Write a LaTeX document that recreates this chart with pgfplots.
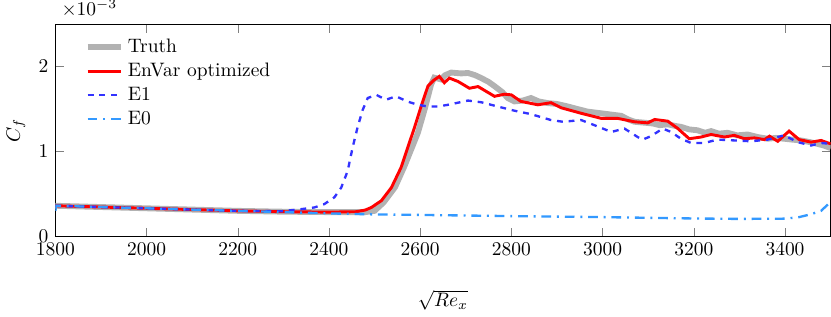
\documentclass[border=0pt]{standalone}
\usepackage{pgfplots}
\pgfplotsset{compat=1.18}
\definecolor{truthgray}{RGB}{178,178,178}
\definecolor{eoneblue}{RGB}{51,51,255}
\definecolor{ezeroblue}{RGB}{51,153,255}
\begin{document}
\begin{tikzpicture}
\begin{axis}[
  scale only axis,
  width=14cm, height=3.83cm,
  xmin=1800, xmax=3500, ymin=0, ymax=2.5e-3,
  xtick={1800,2000,...,3400},
  ytick={0,1e-3,2e-3},
  scaled y ticks=base 10:3,
  tick scale binop=\times,
  xticklabel style={/pgf/number format/1000 sep=},
  xlabel={$\sqrt{Re_x}$},
  xlabel style={yshift=-0.38cm},
  ylabel={$C_f$},
  legend style={draw=none, fill=none, at={(0.03,0.97)}, anchor=north west, font=\normalsize},
  legend cell align=left,
]
\addplot[truthgray, line width=3pt] coordinates {
(1800,0.36e-3) (1900,0.345e-3) (2000,0.33e-3) (2100,0.315e-3) (2200,0.30e-3) (2300,0.29e-3) (2400,0.285e-3) (2480,0.285e-3) (2500,0.30e-3)
(2520,0.40e-3) (2545,0.58e-3) (2565,0.82e-3) (2580,1.02e-3) (2595,1.22e-3) (2610,1.50e-3) (2624,1.79e-3) (2631,1.87e-3) (2645,1.85e-3)
(2655,1.90e-3) (2668,1.93e-3) (2690,1.92e-3) (2705,1.925e-3) (2720,1.90e-3) (2734,1.865e-3) (2750,1.82e-3) (2763,1.77e-3) (2780,1.70e-3)
(2792,1.63e-3) (2807,1.59e-3) (2825,1.60e-3) (2843,1.63e-3) (2860,1.59e-3) (2880,1.57e-3) (2900,1.56e-3) (2924,1.53e-3) (2945,1.50e-3)
(2967,1.47e-3) (2997,1.45e-3) (3026,1.43e-3) (3041,1.42e-3) (3055,1.38e-3) (3070,1.35e-3) (3090,1.34e-3) (3110,1.33e-3) (3125,1.31e-3)
(3143,1.32e-3) (3160,1.30e-3) (3172,1.29e-3) (3190,1.26e-3) (3208,1.25e-3) (3225,1.22e-3) (3238,1.24e-3) (3255,1.21e-3) (3274,1.22e-3)
(3295,1.19e-3) (3318,1.20e-3) (3340,1.17e-3) (3362,1.15e-3) (3380,1.16e-3) (3398,1.15e-3) (3415,1.14e-3) (3435,1.13e-3) (3455,1.11e-3)
(3471,1.09e-3) (3485,1.07e-3) (3500,1.04e-3)
};
\addlegendentry{Truth}
\addplot[red, line width=1.5pt] coordinates {
(1800,0.36e-3) (1900,0.345e-3) (2000,0.33e-3) (2100,0.315e-3) (2200,0.30e-3) (2300,0.29e-3) (2400,0.285e-3) (2460,0.29e-3) (2480,0.31e-3)
(2493,0.34e-3) (2515,0.42e-3) (2537,0.575e-3) (2558,0.81e-3) (2573,1.05e-3) (2588,1.29e-3) (2602,1.53e-3) (2617,1.77e-3) (2630,1.84e-3)
(2642,1.885e-3) (2653,1.81e-3) (2664,1.865e-3) (2683,1.825e-3) (2708,1.745e-3) (2727,1.765e-3) (2763,1.65e-3) (2785,1.675e-3)
(2800,1.667e-3) (2821,1.59e-3) (2858,1.55e-3) (2887,1.575e-3) (2909,1.515e-3) (2953,1.45e-3) (2997,1.39e-3) (3033,1.39e-3)
(3070,1.35e-3) (3099,1.337e-3) (3114,1.377e-3) (3143,1.357e-3) (3165,1.27e-3) (3190,1.15e-3) (3216,1.17e-3) (3238,1.20e-3)
(3267,1.17e-3) (3289,1.19e-3) (3311,1.15e-3) (3333,1.16e-3) (3355,1.14e-3) (3366,1.18e-3) (3384,1.12e-3) (3409,1.24e-3)
(3431,1.14e-3) (3457,1.11e-3) (3479,1.13e-3) (3500,1.09e-3)
};
\addlegendentry{EnVar optimized}
\addplot[eoneblue, line width=1.2pt, dashed] coordinates {
(1800,0.36e-3) (1900,0.345e-3) (2000,0.33e-3) (2100,0.315e-3) (2200,0.30e-3) (2295,0.295e-3) (2339,0.32e-3) (2368,0.34e-3) (2390,0.38e-3)
(2412,0.46e-3) (2427,0.575e-3) (2441,0.77e-3) (2452,1.05e-3) (2463,1.29e-3) (2474,1.49e-3) (2485,1.63e-3) (2504,1.667e-3)
(2525,1.61e-3) (2547,1.65e-3) (2573,1.587e-3) (2595,1.55e-3) (2617,1.53e-3) (2639,1.53e-3) (2661,1.55e-3) (2705,1.60e-3)
(2734,1.58e-3) (2770,1.53e-3) (2807,1.48e-3) (2843,1.44e-3) (2887,1.37e-3) (2913,1.35e-3) (2953,1.37e-3) (2982,1.31e-3)
(3019,1.23e-3) (3048,1.27e-3) (3077,1.17e-3) (3088,1.14e-3) (3106,1.18e-3) (3132,1.27e-3) (3150,1.23e-3) (3172,1.15e-3)
(3194,1.10e-3) (3223,1.10e-3) (3252,1.14e-3) (3289,1.13e-3) (3326,1.12e-3) (3362,1.14e-3) (3398,1.19e-3) (3428,1.11e-3)
(3457,1.07e-3) (3479,1.10e-3) (3500,1.09e-3)
};
\addlegendentry{E1}
\addplot[ezeroblue, line width=1.2pt, dash pattern=on 5pt off 3pt on 1pt off 3pt] coordinates {
(1800,0.30e-3) (1802,0.36e-3) (1900,0.345e-3) (2000,0.33e-3) (2100,0.315e-3) (2200,0.30e-3) (2300,0.285e-3) (2400,0.27e-3) (2500,0.258e-3)
(2600,0.252e-3) (2700,0.245e-3) (2800,0.238e-3) (2900,0.232e-3) (3000,0.226e-3) (3100,0.218e-3) (3200,0.21e-3) (3300,0.205e-3)
(3400,0.208e-3) (3430,0.225e-3) (3457,0.26e-3) (3479,0.30e-3) (3495,0.38e-3) (3500,0.43e-3)
};
\addlegendentry{E0}
\end{axis}
\end{tikzpicture}
\end{document}
